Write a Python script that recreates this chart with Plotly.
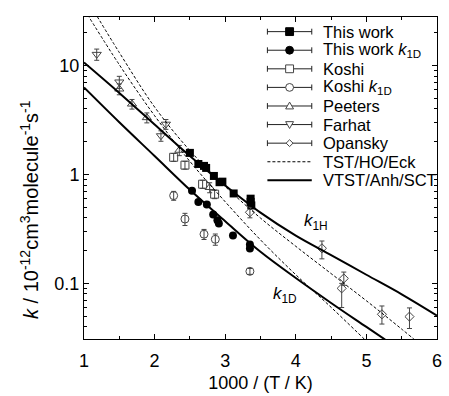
import plotly.graph_objects as go

# ---------------- data ----------------
tw_x = [2.50, 2.62, 2.70, 2.73, 2.84, 2.92, 2.96, 3.12, 3.36, 3.36, 3.37]
tw_y = [1.58, 1.25, 1.20, 1.15, 0.97, 0.85, 0.86, 0.67, 0.60, 0.56, 0.52]

twd_x = [2.53, 2.62, 2.74, 2.83, 2.89, 2.91, 3.11, 3.35, 3.35]
twd_y = [0.71, 0.56, 0.53, 0.43, 0.38, 0.355, 0.275, 0.227, 0.209]

koshi_x = [2.27, 2.43, 2.68, 2.85]
koshi_y = [1.44, 1.22, 0.815, 0.66]
koshi_err = [0.12, 0.10, 0.07, 0.06]

koshid_x = [2.27, 2.43, 2.70, 2.86, 3.35]
koshid_y = [0.64, 0.39, 0.283, 0.254, 0.129]
koshid_err = [0.06, 0.05, 0.03, 0.03, 0.008]

peeters_x = [1.50, 1.68, 1.89, 2.35, 2.78]
peeters_y = [6.1, 4.44, 3.33, 1.67, 0.76]
peeters_err = [0.7, 0.45, 0.35, 0.18, 0.08]

farhat_x = [1.18, 1.50, 2.09, 2.16]
farhat_y = [12.7, 7.08, 2.27, 2.9]
farhat_err = [1.5, 0.9, 0.25, 0.3]

opansky_x = [3.35, 4.37, 4.68, 4.65, 5.22, 5.61]
opansky_y = [0.45, 0.21, 0.111, 0.090, 0.052, 0.0495]
opansky_err_plus = [0.05, 0.035, 0.016, 0.010, 0.010, 0.010]
opansky_err_minus = [0.05, 0.042, 0.015, 0.030, 0.0097, 0.011]

# theory curves
tst_h_x = [1.15, 1.5, 2.0, 2.5, 3.0, 3.5, 4.0, 4.5, 5.0, 5.5, 5.8]
tst_h_y = [31.0, 13.2, 4.17, 1.66, 0.776, 0.398, 0.219, 0.123, 0.0692, 0.0380, 0.0263]

tst_d_x = [1.05, 1.5, 2.0, 2.5, 3.0, 3.5, 4.0, 4.5, 5.0, 5.1]
tst_d_y = [29.4, 10.2, 3.47, 1.32, 0.562, 0.251, 0.120, 0.0603, 0.0295, 0.0256]

vtst_h_x = [1.0, 1.5, 2.0, 2.5, 3.0, 3.5, 4.0, 4.5, 5.0, 5.5, 6.0]
vtst_h_y = [10.7, 5.62, 2.88, 1.48, 0.794, 0.447, 0.275, 0.182, 0.120, 0.0794, 0.0506]

vtst_d_x = [1.0, 1.5, 2.0, 2.5, 3.0, 3.5, 4.0, 4.5, 5.0, 5.5]
vtst_d_y = [6.31, 3.02, 1.48, 0.724, 0.372, 0.195, 0.112, 0.0661, 0.0398, 0.0240]

legend_names = ["This work", "This work <i>k</i><sub>1D</sub>", "Koshi",
                "Koshi <i>k</i><sub>1D</sub>", "Peeters", "Farhat", "Opansky",
                "TST/HO/Eck", "VTST/Anh/SCT"]
legend_kinds = ["square", "circle", "square-open", "circle-open",
                "triangle-up-open", "triangle-down-open", "diamond-open",
                "dash", "solid"]

FONT = "Liberation Sans, Arial, Helvetica, sans-serif"
GREY = "#444444"

W, H = 449, 396
ML, MR, MT, MB = 84, 7, 17, 49
PW, PH = W - ML - MR, H - MT - MB


def px(xp):
    return (xp - ML) / PW


def py(yp):
    return (H - MB - yp) / PH


fig = go.Figure()


def err(arr, arr_minus=None):
    d = dict(type="data", array=arr, visible=True, color=GREY,
             thickness=1, width=2.5)
    if arr_minus is not None:
        d["symmetric"] = False
        d["arrayminus"] = arr_minus
    return d


fig.add_trace(go.Scatter(x=tw_x, y=tw_y, mode="markers", name="This work",
                         marker=dict(symbol="square", size=8, color="black")))
fig.add_trace(go.Scatter(x=twd_x, y=twd_y, mode="markers", name="This work k1D",
                         marker=dict(symbol="circle", size=8, color="black")))
open_sets = [
    ("Koshi", koshi_x, koshi_y, err(koshi_err), "square-open", 8),
    ("Koshi k1D", koshid_x, koshid_y, err(koshid_err), "circle-open", 8),
    ("Peeters", peeters_x, peeters_y, err(peeters_err), "triangle-up-open", 8),
    ("Farhat", farhat_x, farhat_y, err(farhat_err), "triangle-down-open", 8),
    ("Opansky", opansky_x, opansky_y, err(opansky_err_plus, opansky_err_minus), "diamond-open", 7),
]
for nm, xs, ys, e, sym, sz in open_sets:
    fig.add_trace(go.Scatter(x=xs, y=ys, mode="markers", name=nm, error_y=e,
                             marker=dict(symbol=sym, size=sz, color=GREY,
                                         line=dict(width=1, color=GREY))))

# theory curves
fig.add_trace(go.Scatter(x=tst_h_x, y=tst_h_y, mode="lines", name="TST/HO/Eck k1H",
                         line=dict(color="black", width=1, dash="3px,2px", shape="spline")))
fig.add_trace(go.Scatter(x=tst_d_x, y=tst_d_y, mode="lines", name="TST/HO/Eck k1D",
                         line=dict(color="black", width=1, dash="3px,2px", shape="spline")))
fig.add_trace(go.Scatter(x=vtst_h_x, y=vtst_h_y, mode="lines", name="VTST/Anh/SCT k1H",
                         line=dict(color="black", width=2, shape="spline")))
fig.add_trace(go.Scatter(x=vtst_d_x, y=vtst_d_y, mode="lines", name="VTST/Anh/SCT k1D",
                         line=dict(color="black", width=2, shape="spline")))

axis_common = dict(showline=True, linecolor="black", linewidth=1, mirror="ticks",
                   ticks="inside", ticklen=5, tickcolor="black", showgrid=False,
                   zeroline=False, tickfont=dict(family=FONT, size=18, color="black"))

fig.update_xaxes(range=[1, 6], tickvals=[1, 2, 3, 4, 5, 6], ticklabelstandoff=5,
                 minor=dict(ticks="inside", ticklen=3, tickcolor="black",
                            tickvals=[1.5, 2.5, 3.5, 4.5, 5.5]),
                 title=dict(text="1000 / (T / K)", standoff=6,
                            font=dict(family=FONT, size=18, color="black")),
                 **axis_common)
fig.update_yaxes(type="log", range=[-1.511, 1.447],
                 tickvals=[0.1, 1, 10], ticktext=["0.1", "1", "10"],
                 minor=dict(ticks="inside", ticklen=3, tickcolor="black",
                            tickvals=[0.04, 0.05, 0.06, 0.07, 0.08, 0.09,
                                      0.2, 0.3, 0.4, 0.5, 0.6, 0.7, 0.8, 0.9,
                                      2, 3, 4, 5, 6, 7, 8, 9, 20]),
                 **axis_common)

# axis title for y, placed as in the reference
fig.add_annotation(xref="paper", yref="paper", x=px(28), y=py(214),
                   text="<i>k</i> / 10<sup>-12</sup>cm<sup>3</sup>molecule<sup>-1</sup>s<sup>-1</sup>",
                   textangle=-90, showarrow=False, xanchor="center", yanchor="middle",
                   font=dict(family=FONT, size=20, color="black"))
# curve labels
fig.add_annotation(x=4.28, y=-0.435, xref="x", yref="y", text="<i>k</i><sub>1H</sub>",
                   showarrow=False, font=dict(family=FONT, size=17, color="black"))
fig.add_annotation(x=3.85, y=-1.11, xref="x", yref="y", text="<i>k</i><sub>1D</sub>",
                   showarrow=False, font=dict(family=FONT, size=17, color="black"))

# ---------------- hand-drawn legend (gnuplot style) ----------------
shapes = []
row0, dy = 32, 19.05
x0, x1 = 270, 315
xm = (x0 + x1) / 2
for i, (name, kind) in enumerate(zip(legend_names, legend_kinds)):
    yc = row0 + i * dy
    fig.add_annotation(xref="paper", yref="paper", x=px(324), y=py(yc), text=name,
                       showarrow=False, xanchor="left", yanchor="middle",
                       font=dict(family=FONT, size=16.5, color="black"))
    if kind == "dash":
        shapes.append(dict(type="line", xref="paper", yref="paper", x0=px(x0), x1=px(x1),
                           y0=py(yc), y1=py(yc), line=dict(color="black", width=1, dash="3px,2px")))
        continue
    if kind == "solid":
        shapes.append(dict(type="line", xref="paper", yref="paper", x0=px(x0), x1=px(x1),
                           y0=py(yc), y1=py(yc), line=dict(color="black", width=2)))
        continue
    col = "black" if not kind.endswith("open") else GREY
    shapes.append(dict(type="line", xref="paper", yref="paper", x0=px(x0), x1=px(x1),
                       y0=py(yc), y1=py(yc), line=dict(color="#222222", width=1)))
    for xc in (x0, x1):
        shapes.append(dict(type="line", xref="paper", yref="paper", x0=px(xc), x1=px(xc),
                           y0=py(yc - 3), y1=py(yc + 3), line=dict(color="#222222", width=1)))
    r = 4 if not kind.startswith("diamond") else 3.5
    fill = col if not kind.endswith("open") else "white"
    if kind.startswith("square"):
        shapes.append(dict(type="rect", xref="paper", yref="paper",
                           x0=px(xm - r), x1=px(xm + r), y0=py(yc - r), y1=py(yc + r),
                           line=dict(color=col, width=1), fillcolor=fill))
    elif kind.startswith("circle"):
        shapes.append(dict(type="circle", xref="paper", yref="paper",
                           x0=px(xm - r), x1=px(xm + r), y0=py(yc - r), y1=py(yc + r),
                           line=dict(color=col, width=1), fillcolor=fill))
    else:
        if kind.startswith("triangle-up"):
            pts = [(xm, yc - r), (xm + r, yc + r * 0.75), (xm - r, yc + r * 0.75)]
        elif kind.startswith("triangle-down"):
            pts = [(xm, yc + r), (xm + r, yc - r * 0.75), (xm - r, yc - r * 0.75)]
        else:
            pts = [(xm, yc - r), (xm + r, yc), (xm, yc + r), (xm - r, yc)]
        path = "M " + " L ".join(f"{px(a):.5f},{py(b):.5f}" for a, b in pts) + " Z"
        shapes.append(dict(type="path", xref="paper", yref="paper", path=path,
                           line=dict(color=col, width=1), fillcolor=fill))

fig.update_layout(
    width=W, height=H,
    margin=dict(l=ML, r=MR, t=MT, b=MB),
    paper_bgcolor="white", plot_bgcolor="white",
    font=dict(family=FONT, color="black"),
    showlegend=False,
    shapes=shapes,
)

fig.write_html("out.html")
